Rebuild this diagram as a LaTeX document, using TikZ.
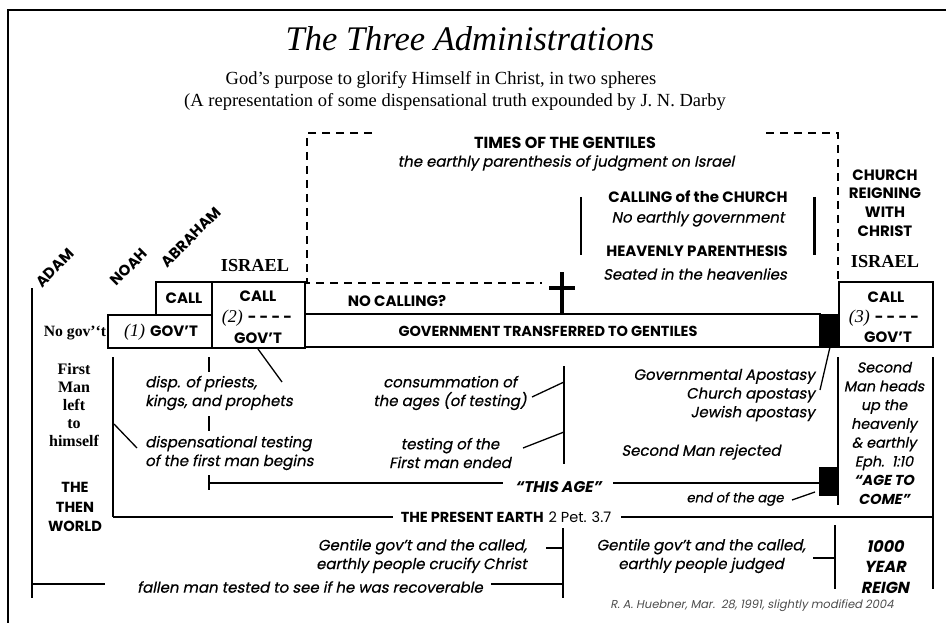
\documentclass[tikz,border=0pt]{standalone}
\usepackage{fontspec}
\setmainfont{Liberation Serif}
\newfontfamily\gs{Poppins}
\newfontfamily\gsi[FakeSlant=0.2, FakeBold=0.6]{Poppins}
\newfontfamily\gsib[FakeSlant=0.2]{Poppins}
\tikzset{
  capt/.style={font=\gs\bfseries\fontsize{15}{18}\selectfont, inner sep=0pt},
  itx/.style={font=\gsi\fontsize{15}{18.7}\selectfont, inner sep=0pt},
  itb/.style={font=\gsib\bfseries\fontsize{15.5}{20}\selectfont, inner sep=0pt},
  serb/.style={font=\bfseries\fontsize{18.3}{20}\selectfont, inner sep=0pt},
  ln/.style={line width=1.8pt},
  thn/.style={line width=1.3pt},
  thk/.style={line width=2.2pt},
  dsh/.style={line width=2.2pt, dash pattern=on 8pt off 6pt},
  blk/.style={fill=black, draw=black, line width=1pt}
}
\begin{document}
\begin{tikzpicture}[x=1pt,y=-1pt]
\useasboundingbox (0,0) rectangle (946,623);
% frame
\draw[line width=2.2pt] (8,623) -- (8,10) -- (946,10);
% titles
\node[inner sep=0pt, font=\itshape\fontsize{34.5}{38}\selectfont] (title) at (470,39) {The Three Administrations};
\node[inner sep=0pt, font=\fontsize{18.5}{20}\selectfont] (sub1) at (441,80) {God’s purpose to glorify Himself in Christ, in two spheres};
\node[inner sep=0pt, font=\fontsize{18.5}{20}\selectfont] (sub2) at (455,102) {(A representation of some dispensational truth expounded by J. N. Darby};
% times of the gentiles
\coordinate (tl1) at (372,133); \coordinate (tl2) at (307,133); \coordinate (tl3) at (307,283); \coordinate (tl4) at (542,283);
\draw[dsh] (tl1) -- (tl2) -- (tl3) -- (tl4);
\coordinate (tr1) at (766,133); \coordinate (tr2) at (838,133); \coordinate (tr3) at (838,280);
\draw[dsh] (tr1) -- (tr2) -- (tr3);
\node[capt, font=\gs\bfseries\fontsize{16}{18}\selectfont] (times) at (565,143) {TIMES OF THE GENTILES};
\node[itx] (earthly) at (566,163) {the earthly parenthesis of judgment on Israel};
% cross
\coordinate (c1) at (562,272); \coordinate (c2) at (562,314);
\coordinate (c3) at (549,288); \coordinate (c4) at (575,288);
\draw[line width=3.2pt] (c1) -- (c2); \draw[line width=3.2pt] (c3) -- (c4);
% calling of the church
\coordinate (v1a) at (581,197); \coordinate (v1b) at (581,255);
\coordinate (v2a) at (814,197); \coordinate (v2b) at (814,255);
\draw[ln] (v1a) -- (v1b); \draw[line width=3pt] (v2a) -- (v2b);
\node[capt] (calling) at (698,197) {CALLING of the CHURCH};
\node[itx] (noearth) at (698,219) {No earthly government};
\node[capt] (heavpar) at (697,251) {HEAVENLY PARENTHESIS};
\node[itx] (seated) at (695,274) {Seated in the heavenlies};
\node[capt, align=center, font=\gs\bfseries\fontsize{15}{18.8}\selectfont] (reign) at (885,203) {CHURCH\\REIGNING\\WITH\\CHRIST};
\node[serb] (israel2) at (885,262) {ISRAEL};
% names
\node[capt, rotate=45] (adam) at (55,268) {ADAM};
\node[capt, rotate=45] (noah) at (129,267) {NOAH};
\node[capt, rotate=45] (abraham) at (191,237) {ABRAHAM};
\node[serb] (israel1) at (255,266) {ISRAEL};
% boxes
\draw[ln] (156,282) rectangle (212,315);
\draw[ln] (108,315) rectangle (212,348);
\draw[ln] (212,282) rectangle (305,348);
\draw[ln] (305,314) rectangle (820,347);
\draw[blk] (820,314) rectangle (839,347);
\draw[ln] (839,282) rectangle (933,347);
\node[capt] (call1) at (184,298) {CALL};
\node[inner sep=0pt] (gov1) at (161,332) {{\itshape\fontsize{18}{18}\selectfont(1)}\hspace{5pt}{\gs\bfseries\fontsize{15}{18}\selectfont GOV’T}};
\node[inner sep=0pt, font=\bfseries\fontsize{15.7}{16}\selectfont] (nogov) at (75,333) {No gov’‘t};
\node[capt] (call2) at (258,296) {CALL};
\node[inner sep=0pt] (two) at (257,318) {{\itshape\fontsize{18}{18}\selectfont(2)}\hspace{5pt}{\gs\bfseries\fontsize{15}{18}\selectfont- - - -}};
\node[capt] (gov2) at (258,338) {GOV’T};
\node[capt] (call3) at (886,297) {CALL};
\node[inner sep=0pt] (three) at (884,318) {{\itshape\fontsize{18}{18}\selectfont(3)}\hspace{5pt}{\gs\bfseries\fontsize{15}{18}\selectfont- - - -}};
\node[capt] (gov3) at (888,337) {GOV’T};
\node[capt] (nocall) at (397,301) {NO CALLING?};
\node[capt, font=\gs\bfseries\fontsize{14.5}{18}\selectfont] (govtr) at (548,331) {GOVERNMENT TRANSFERRED TO GENTILES};
% left lines
\coordinate (a1) at (32,288); \coordinate (a2) at (32,598);
\draw[thk] (a1) -- (a2);
\coordinate (f1) at (32,584); \coordinate (f2) at (105,584);
\draw[ln] (f1) -- (f2);
\node[itx] (fallen) at (310,587) {fallen man tested to see if he was recoverable};
\coordinate (b1) at (563,528); \coordinate (b2) at (563,598);
\draw[thk] (b1) -- (b2);
\draw[ln] ([xshift=8pt]fallen.east |- 0,584) -- (b1 |- 0,584);
\draw[ln] (546,548) -- (b1 |- 0,548);
\node[itx, align=right, anchor=east] (gent1) at (527,556) {Gentile gov’t and the called,\\earthly people crucify Christ};
\node[itx, align=center] (gent2) at (701,556) {Gentile gov’t and the called,\\earthly people judged};
\coordinate (r1) at (835,525); \coordinate (r2) at (835,589);
\draw[thk] (r1) -- (r2);
\draw[ln] (813,558) -- (835,558);
\node[itb, align=center, font=\gsib\bfseries\fontsize{16}{20.5}\selectfont] (reign1000) at (885,567) {1000\\YEAR\\REIGN};
\node[inner sep=0pt, font=\gsib\fontsize{11.5}{13}\selectfont, text=black!70] (credit) at (752,606) {R. A. Huebner, Mar.\ \ 28, 1991, slightly modified 2004};
% second left line
\coordinate (s1) at (113,357); \coordinate (s2) at (113,517);
\draw[thk] (s1) -- (s2);
\node[inner sep=0pt] (present) at (506,517) {{\gs\bfseries\fontsize{14.5}{18}\selectfont THE PRESENT EARTH}\hspace{5pt}{\gs\fontsize{14.5}{18}\selectfont 2 Pet. 3.7}};
\draw[ln] (s2) -- ([xshift=-8pt]present.west |- s2);
\draw[ln] ([xshift=10pt]present.east |- s2) -- (933,517);
\draw[thn] (114,424) -- (137,448);
\node[inner sep=0pt, align=center, font=\bfseries\fontsize{16}{18}\selectfont] (firstman) at (74,405) {First\\Man\\left\\to\\himself};
\node[capt, align=center, font=\gs\bfseries\fontsize{14.6}{19.5}\selectfont] (thenworld) at (75,507) {THE\\THEN\\WORLD};
% ticks at 209
\draw[thk] (209,357) -- (209,372);
\draw[thk] (209,416) -- (209,431);
\draw[thk] (209,475) -- (209,490);
\node[itb] (thisage) at (558,487) {“THIS AGE”};
\draw[ln] (209,483) -- ([xshift=-12pt]thisage.west |- 0,483);
\draw[ln] ([xshift=12pt]thisage.east |- 0,483) -- (819,483);
\draw[thn] (258,349) -- (282,382);
\node[itx, align=left, anchor=west] (disp) at (145,393) {disp. of priests,\\kings, and prophets};
\node[itx, align=left, anchor=west] (testing) at (145,453) {dispensational testing\\of the first man begins};
% consummation bracket
\coordinate (m1) at (564,366); \coordinate (m2) at (564,464);
\draw[thk] (m1) -- (m2);
\draw[thn] (532,397) -- (564,382);
\draw[thn] (523,448) -- (564,432);
\node[itx, align=center] (consum) at (450,393) {consummation of\\the ages (of testing)};
\node[itx, align=center] (ended) at (450,453) {testing of the\\First man ended};
% apostasy
\node[itx, align=right, anchor=east] (apost) at (815,395) {Governmental Apostasy\\Church apostasy\\Jewish apostasy};
\draw[thn] (820,390) -- (830,347);
\node[itx] (rejected) at (701,452) {Second Man rejected};
\draw[blk] (819,467) rectangle (837,495);
\node[itx, font=\gsi\fontsize{13.3}{15}\selectfont] (endage) at (735,499) {end of the age};
\draw[thn] (792,500) -- (815,492);
% right column
\draw[thk] (838,357) -- (838,505);
\draw[thk] (933,357) -- (933,589);
\node[itx, align=center, font=\gsi\fontsize{14.4}{18.8}\selectfont] (second) at (884,433) {Second\\Man heads\\up the\\heavenly\\\& earthly\\Eph.\ \ 1:10\\{\gsib\bfseries “AGE TO}\\{\gsib\bfseries COME”}};
\end{tikzpicture}
\end{document}
